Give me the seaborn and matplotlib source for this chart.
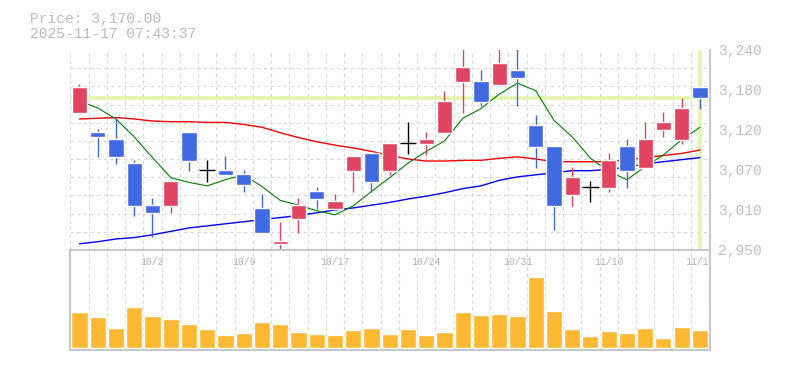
import matplotlib
matplotlib.use("Agg")
import matplotlib.pyplot as plt
import numpy as np
import seaborn as sns
from matplotlib import transforms

# trading days shown on the chart
DATES = ["9/26", "9/29", "9/30", "10/1", "10/2", "10/3", "10/6", "10/7", "10/8", "10/9",
         "10/10", "10/14", "10/15", "10/16", "10/17", "10/20", "10/21", "10/22", "10/23", "10/24",
         "10/27", "10/28", "10/29", "10/30", "10/31", "11/4", "11/5", "11/6", "11/7", "11/10",
         "11/11", "11/12", "11/13", "11/14", "11/17"]
LABELED_DAYS = [4, 9, 14, 19, 24, 29, 34]

OPEN = [3149, 3121, 3111, 3076, 3015, 3014, 3121, 3066, 3066, 3060,
        3011, 2959, 2995, 3036, 3010, 3064, 3091, 3064, 3105, 3104,
        3120, 3194, 3195, 3189, 3211, 3131, 3101, 3030, 3041, 3040,
        3101, 3069, 3124, 3110, 3186]
HIGH = [3191, 3125, 3142, 3080, 3025, 3050, 3121, 3080, 3086, 3066,
        3031, 2991, 3025, 3041, 3031, 3086, 3091, 3105, 3136, 3121,
        3181, 3248, 3211, 3248, 3248, 3146, 3101, 3070, 3050, 3091,
        3111, 3136, 3150, 3170, 3186]
LOW = [3149, 3085, 3075, 3000, 2969, 3004, 3064, 3049, 3059, 3034,
       2975, 2949, 2975, 3010, 3010, 3034, 3034, 3059, 3089, 3088,
       3120, 3149, 3159, 3189, 3159, 3069, 2979, 3014, 3020, 3034,
       3040, 3069, 3114, 3104, 3155]
CLOSE = [3186, 3114, 3085, 3014, 3004, 3050, 3079, 3066, 3059, 3044,
         2975, 2963, 3015, 3024, 3021, 3086, 3049, 3105, 3105, 3111,
         3166, 3215, 3165, 3221, 3199, 3099, 3014, 3056, 3041, 3080,
         3064, 3111, 3136, 3156, 3170]

# moving averages as drawn on the chart
MA_SHORT = [3166, 3156, 3140, 3114, 3084, 3055, 3048, 3043, 3052, 3059,
            3042, 3022, 3015, 3007, 3001, 3014, 3035, 3055, 3076, 3093,
            3108, 3141, 3155, 3176, 3192, 3181, 3138, 3114, 3083, 3064,
            3052, 3071, 3088, 3110, 3128]
MA_MID = [3140, 3141, 3142, 3140, 3137, 3136, 3136, 3135, 3135, 3132,
          3128, 3120, 3113, 3107, 3102, 3098, 3093, 3087, 3082, 3079,
          3079, 3080, 3080, 3083, 3085, 3082, 3078, 3078, 3078, 3078,
          3081, 3084, 3087, 3090, 3095]
MA_LONG = [2959, 2962, 2966, 2968, 2972, 2977, 2982, 2985, 2988, 2991,
           2994, 2997, 3000, 3004, 3008, 3011, 3015, 3019, 3024, 3028,
           3033, 3039, 3043, 3051, 3056, 3059, 3062, 3065, 3065, 3067,
           3070, 3075, 3078, 3081, 3084]

VOLUME = [10800, 9300, 6000, 12300, 9600, 8700, 7200, 5700, 3900, 4500,
          7800, 7200, 4800, 4200, 3900, 5400, 6000, 4200, 5700, 3900,
          4800, 10800, 9900, 10200, 9600, 21300, 11100, 5700, 3600, 5100,
          4500, 6000, 3000, 6300, 5400]

LAST_PRICE = 3170
Y_TICKS = [2950, 3008, 3066, 3124, 3182, 3240]
Y_LABELS = ["2,950", "3,010", "3,070", "3,120", "3,180", "3,240"]

UP = "#e04460"
DOWN = "#4169e1"
GRID = "#d9d9d9"
FRAME = "#c8c8c8"
LIME = "#e4f5b0"

sns.set_theme(style="white")
plt.rcParams["font.family"] = ["Liberation Mono", "DejaVu Sans Mono"]

fig = plt.figure(figsize=(7.85, 3.7), dpi=100)
ax = fig.add_axes([70 / 785, 120 / 370, 640 / 785, 200 / 370])
ax_vol = fig.add_axes([70 / 785, 20 / 370, 640 / 785, 100 / 370])

idx = np.arange(len(DATES))
o, h, l, c = map(np.array, (OPEN, HIGH, LOW, CLOSE))
colors = np.where(c > o, UP, np.where(c < o, DOWN, "black"))

# price panel
ax.axhline(LAST_PRICE, color=LIME, lw=2.7, zorder=1)
ax.axvline(idx[-1], color=LIME, lw=2.7, zorder=1)

sns.lineplot(x=idx, y=MA_LONG, color="#0000ff", lw=1.0, ax=ax, zorder=2)
sns.lineplot(x=idx, y=MA_MID, color="#ff0000", lw=1.0, ax=ax, zorder=2)
sns.lineplot(x=idx, y=MA_SHORT, color="#008000", lw=0.8, ax=ax, zorder=2)

ax.vlines(idx, l, h, colors=colors, lw=1.0, zorder=3)
body = np.abs(c - o)
ax.bar(idx, body, bottom=np.minimum(o, c), width=0.84, color=colors, zorder=4)
doji = body == 0
ax.hlines(c[doji], idx[doji] - 0.45, idx[doji] + 0.45, colors="black", lw=1.0, zorder=4)

ax.set_xlim(-0.52, 34.55)
ax.set_ylim(2950, 3240)
ax.set_xticks([])
ax.set_xticks(np.arange(-0.5, 35, 1), minor=True)
ax.set_yticks(Y_TICKS)
ax.set_yticklabels(Y_LABELS)
ax.set_yticks(np.linspace(2950, 3240, 12), minor=True)
ax.yaxis.tick_right()
ax.grid(which="minor", color=GRID, ls=(0, (3, 3)), lw=0.8, zorder=0)
ax.tick_params(which="both", length=0)
ax.tick_params(axis="y", labelsize=10.5, labelcolor="#c0c0c0", pad=6)
ax.set_xlabel("")
ax.set_ylabel("")
for side in ("top", "left"):
    ax.spines[side].set_visible(False)
for side in ("bottom", "right"):
    ax.spines[side].set_color(FRAME)
    ax.spines[side].set_linewidth(1.5)

# volume panel
sns.barplot(x=idx, y=VOLUME, color="#fdb934", saturation=1, width=0.88,
            errorbar=None, ax=ax_vol, zorder=2)
ax_vol.set_xlim(-0.52, 34.55)
ax_vol.set_ylim(-600, 29400)
ax_vol.set_xticks([])
ax_vol.set_xticks(np.arange(-0.5, 35, 1), minor=True)
ax_vol.set_yticks([])
ax_vol.grid(which="minor", axis="x", color=GRID, ls=(0, (3, 3)), lw=0.8, zorder=0)
ax_vol.tick_params(which="both", length=0)
ax_vol.set_xlabel("")
ax_vol.set_ylabel("")
for side in ax_vol.spines.values():
    side.set_color(FRAME)
    side.set_linewidth(1.5)

trans = transforms.blended_transform_factory(ax_vol.transData, ax_vol.transAxes)
for i in LABELED_DAYS:
    ax_vol.text(i, 0.88, DATES[i], transform=trans, ha="center", va="center",
                fontsize=7, color="#b0b0b0", clip_on=True, zorder=5)

fig.text(30 / 785, 1 - 22.5 / 370, "Price: 3,170.00", va="baseline",
         fontsize=10.5, color="#bbbbbb")
fig.text(30 / 785, 1 - 38 / 370, "2025-11-17 07:43:37", va="baseline",
         fontsize=10.5, color="#bbbbbb")

fig.savefig("out.png", dpi=100)
